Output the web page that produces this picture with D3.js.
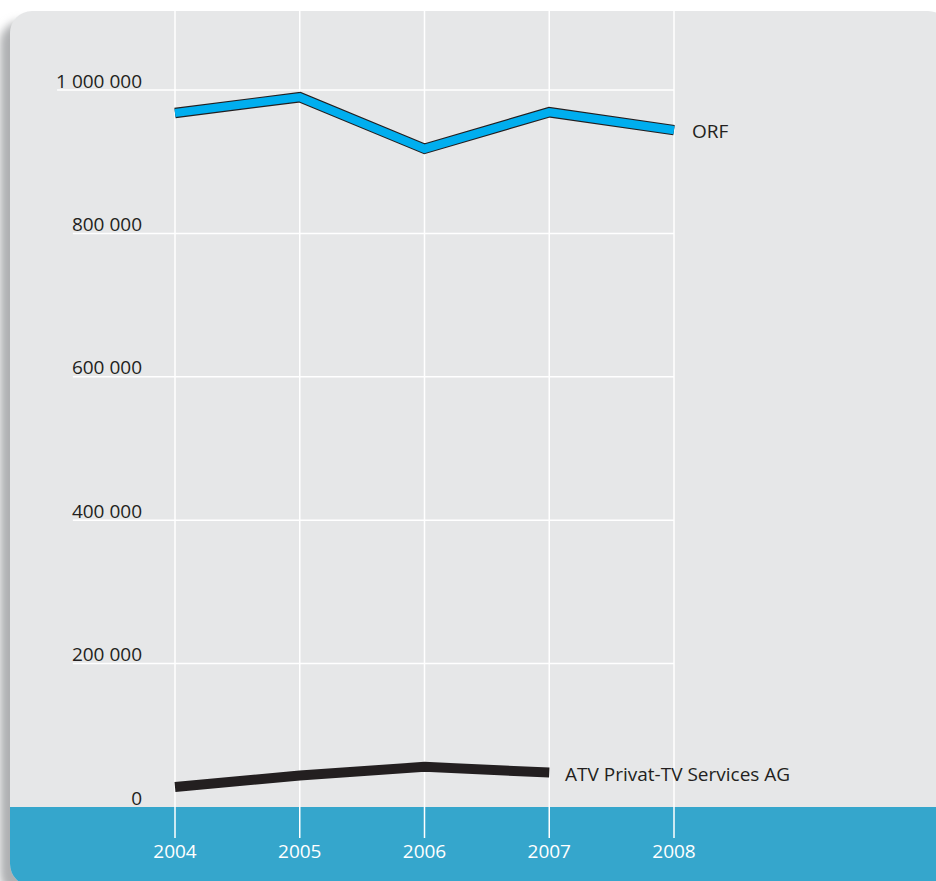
<!DOCTYPE html>
<html><head><meta charset="utf-8">
<script src="https://cdn.jsdelivr.net/npm/d3@7"></script>
<style>body{margin:0;background:#fff;}svg{display:block;font-family:"Open Sans",sans-serif;}</style>
</head><body><div id="chart"></div>
<script>
const years = [2004, 2005, 2006, 2007, 2008];
const orfValues = [968000, 990000, 918000, 969000, 944000];
const atvValues = [28000, 44000, 56000, 48000];
const yTicks = [0, 200000, 400000, 600000, 800000, 1000000];
const seriesLabels = ["ORF", "ATV Privat-TV Services AG"];

const W = 936, H = 881;
const svg = d3.select("#chart").append("svg").attr("width", W).attr("height", H);
const defs = svg.append("defs");
const f = defs.append("filter").attr("id", "sh").attr("x", "-20%").attr("y", "-20%").attr("width", "140%").attr("height", "140%");
f.append("feGaussianBlur").attr("stdDeviation", 4.5);

const panel = {x: 10, y: 11, w: 940, h: 875, r: 22};
// shadow
svg.append("rect").attr("x", panel.x - 10).attr("y", panel.y + 10).attr("width", panel.w).attr("height", panel.h)
  .attr("rx", panel.r).attr("fill", "#afb0b2").attr("filter", "url(#sh)");
defs.append("clipPath").attr("id", "pc").append("rect")
  .attr("x", panel.x).attr("y", panel.y).attr("width", panel.w).attr("height", panel.h).attr("rx", panel.r);
const g = svg.append("g").attr("clip-path", "url(#pc)");
g.append("rect").attr("x", panel.x).attr("y", panel.y).attr("width", panel.w).attr("height", panel.h).attr("fill", "#e6e7e8");

const x = d3.scaleLinear().domain([2004, 2008]).range([175, 674]);
const y = d3.scaleLinear().domain([0, 1000000]).range([807, 90]);

g.append("rect").attr("x", panel.x).attr("y", y(0)).attr("width", panel.w).attr("height", H - y(0) + 10).attr("fill", "#35a6cc");

const fmt = d3.formatLocale({decimal: ",", thousands: " ", grouping: [3], currency: ["", ""]}).format(",d");

// y labels
const yl = g.append("g").selectAll("text").data(yTicks).join("text")
  .attr("x", 142).attr("y", d => y(d) - 2.5).attr("text-anchor", "end")
  .attr("font-size", 19).attr("fill", "#231f20").text(d => fmt(d));
// horizontal gridlines
yl.each(function(d) {
  if (d === 0) return;
  const bb = this.getBBox();
  g.insert("line", "g").attr("x1", bb.x + 1).attr("x2", x(2008)).attr("y1", y(d)).attr("y2", y(d))
    .attr("stroke", "#fff").attr("stroke-width", 1.5);
});
// vertical gridlines
g.append("g").selectAll("line").data(years).join("line")
  .attr("x1", d => x(d)).attr("x2", d => x(d)).attr("y1", panel.y).attr("y2", 838)
  .attr("stroke", "#fff").attr("stroke-width", 1.5);
// x labels
g.append("g").selectAll("text").data(years).join("text")
  .attr("x", d => x(d)).attr("y", 858).attr("text-anchor", "middle")
  .attr("font-size", 19).attr("fill", "#fff").text(d => d);

const line = d3.line().x((d, i) => x(years[i])).y(d => y(d));
g.append("path").attr("d", line(orfValues)).attr("fill", "none").attr("stroke", "#231f20")
  .attr("stroke-width", 10.5).attr("stroke-linejoin", "miter").attr("stroke-linecap", "butt");
g.append("path").attr("d", line(orfValues)).attr("fill", "none").attr("stroke", "#00aeef")
  .attr("stroke-width", 8.2).attr("stroke-linejoin", "miter").attr("stroke-linecap", "butt");
g.append("path").attr("d", line(atvValues)).attr("fill", "none").attr("stroke", "#231f20")
  .attr("stroke-width", 10).attr("stroke-linejoin", "miter").attr("stroke-linecap", "butt");

g.append("text").attr("x", 692).attr("y", 138).attr("font-size", 19).attr("fill", "#231f20").text(seriesLabels[0]);
g.append("text").attr("x", 565).attr("y", 781).attr("font-size", 19).attr("fill", "#231f20").text(seriesLabels[1]);
</script></body></html>
